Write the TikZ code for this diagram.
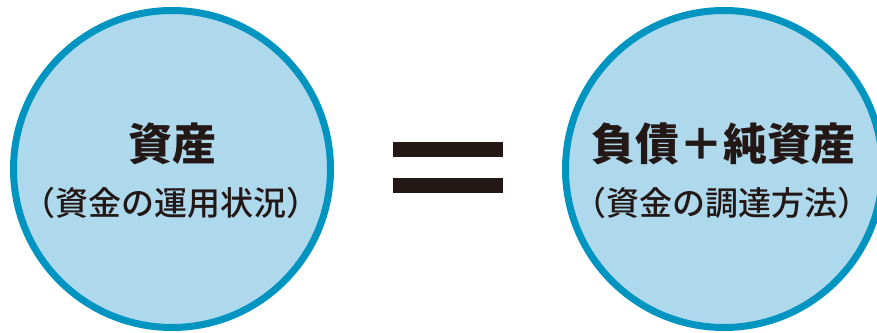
\documentclass[tikz,border=0pt]{standalone}
\usepackage{fontspec}
\newfontfamily\jpfont{Noto Sans CJK JP}[BoldFont={* Bold}]
\newfontfamily\jpblack{Noto Sans CJK JP Black}
\newfontfamily\jpmed{Noto Sans CJK JP Medium}
\definecolor{circfill}{RGB}{174,216,236}
\definecolor{circline}{RGB}{0,149,192}
\definecolor{ink}{RGB}{35,24,21}
\begin{document}
\begin{tikzpicture}[x=1pt,y=-1pt,
  bigcirc/.style={circle,draw=circline,fill=circfill,line width=7pt,minimum size=317pt,inner sep=0pt},
  title/.style={text=ink,font=\jpblack\fontsize{44}{48}\selectfont,inner sep=0pt},
  subtitle/.style={text=ink,font=\jpmed\fontsize{33}{36}\selectfont,inner sep=0pt},
  bar/.style={rectangle,fill=ink,minimum width=110pt,minimum height=15pt,inner sep=0pt}]
\useasboundingbox (0,0) rectangle (877,332);
\clip (0,0) rectangle (877,332);
\node[bigcirc] (left) at (172,169) {};
\node[bigcirc] (right) at (724,169) {};
\node[title] (lt) at (172,144) {資産};
\node[subtitle] (ls) at (171,203) {（資金の運用状況）};
\node[title] (rt) at (723,144) {負債＋純資産};
\node[subtitle] (rs) at (722,203) {（資金の調達方法）};
\node[bar] (eq1) at (448,149.5) {};
\node[bar] (eq2) at (448,185.5) {};
\end{tikzpicture}
\end{document}
